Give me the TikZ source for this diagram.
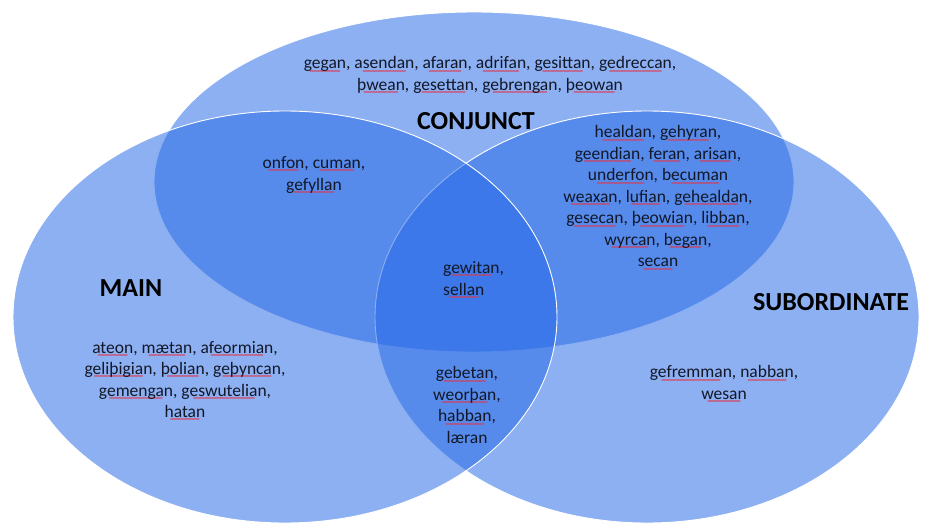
\documentclass[tikz,border=0pt]{standalone}
\usepackage{fontspec}
\usepackage{graphicx}
\setmainfont{Carlito}
\newfontface\squigfont[Color=E1374B]{Carlito}
\definecolor{vennblue}{RGB}{38,105,230}
\definecolor{inkdark}{RGB}{18,24,40}
% red spell-check line under a word
\newsavebox\spellbox
\newcommand\spell[1]{\sbox\spellbox{#1}\rlap{\raisebox{-7.4pt}{\resizebox{\wd\spellbox}{\height}{\fontsize{18}{18}\squigfont –}}}\usebox\spellbox}
\tikzset{
  vennset/.style={fill=vennblue, fill opacity=0.53, draw=white, line width=0.9pt},
  words/.style={align=center, text=inkdark, inner sep=0pt, font=\fontsize{17.5}{21.5}\selectfont},
  setname/.style={text=black, inner sep=0pt, font=\fontsize{26}{30}\selectfont\bfseries},
}
\begin{document}
\begin{tikzpicture}[x=1pt, y=-1pt]
\useasboundingbox (0,0) rectangle (925,524);
% the three sets
\draw[vennset] (474,182) ellipse [x radius=320pt, y radius=170pt];
\draw[vennset] (647,317) ellipse [x radius=272pt, y radius=206pt];
\draw[vennset] (285,317) ellipse [x radius=272pt, y radius=206pt];
% set names
\node[setname] (conjunct) at (476,121) {CONJUNCT};
\node[setname] (main) at (131,288) {MAIN};
\node[setname] (subordinate) at (831,302) {SUBORDINATE};
% verbs
\node[words] (conjonly) at (490,77) {\spell{gegan}, \spell{asendan}, \spell{afaran}, \spell{adrifan}, \spell{gesittan}, \spell{gedreccan},\\
  \spell{þwean}, \spell{gesettan}, \spell{gebrengan}, \spell{þeowan}};
\node[words] (mainconj) at (314,177) {\spell{onfon}, \spell{cuman},\\ \spell{gefyllan}};
\node[words] (conjsub) at (658,200) {\spell{healdan}, \spell{gehyran},\\
  \spell{geendian}, \spell{feran}, \spell{arisan},\\
  \spell{underfon}, \spell{becuman}\\
  \spell{weaxan}, \spell{lufian}, \spell{gehealdan},\\
  \spell{gesecan}, \spell{þeowian}, \spell{libban},\\
  \spell{wyrcan}, \spell{began},\\
  \spell{secan}};
\node[words, align=left, anchor=west] (allthree) at (443,282) {\spell{gewitan},\\ \spell{sellan}};
\node[words] (mainonly) at (185,383) {\spell{ateon}, \spell{mætan}, \spell{afeormian},\\
  \spell{geliþigian}, \spell{þolian}, \spell{geþyncan},\\
  \spell{gemengan}, \spell{geswutelian},\\
  \spell{hatan}};
\node[words] (mainsub) at (467,405) {\spell{gebetan},\\ \spell{weorþan},\\ \spell{habban},\\ læran};
\node[words] (subonly) at (724,386) {\spell{gefremman}, \spell{nabban},\\ \spell{wesan}};
\end{tikzpicture}
\end{document}
